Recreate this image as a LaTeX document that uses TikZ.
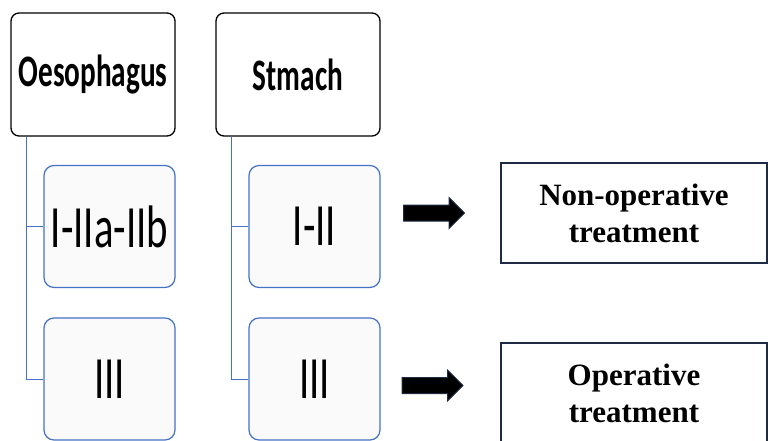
\documentclass[tikz,border=0pt]{standalone}
\usepackage{fontspec}
\newfontfamily\calibrifont{Carlito}
\newfontfamily\timesfont{Liberation Serif}
\usetikzlibrary{shapes.arrows}
\definecolor{stageblue}{RGB}{68,114,196}
\definecolor{navyline}{RGB}{31,42,68}
\newcommand{\narrowtext}[1]{\scalebox{0.68}[1]{#1}}
\newcommand{\organtext}[1]{\scalebox{0.65}[1]{#1}}
\tikzset{
	organ/.style={draw=black, line width=1.3pt, rounded corners=8pt, fill=white,
		minimum width=164pt, minimum height=123pt, inner sep=0pt,
		font=\calibrifont\bfseries\fontsize{45}{50}\selectfont},
	stage/.style={draw=stageblue, line width=1.2pt, rounded corners=10pt, fill=black!2,
		minimum width=131pt, minimum height=122pt, inner sep=0pt,
		font=\calibrifont\fontsize{60}{66}\selectfont},
	link/.style={stageblue, line width=1pt},
	fatarrow/.style={single arrow, draw=navyline, fill=black, line width=1pt,
		inner xsep=0pt, inner ysep=7.5pt,
		minimum height=61pt, minimum width=30pt, single arrow head extend=7.5pt},
	treat/.style={draw=navyline, line width=1.8pt, fill=white, align=center,
		minimum width=266pt, minimum height=100pt,
		font=\timesfont\bfseries\fontsize{31}{37}\selectfont}
}
\begin{document}
\begin{tikzpicture}[x=1pt,y=-1pt]
		\useasboundingbox (0,0) rectangle (768,441);
		% organs
		\node[organ] (oeso) at (93,74.5) {\organtext{Oesophagus}};
		\node[organ] (stom) at (298,74.5) {\organtext{Stmach}};
		% stages
		\node[stage] (oesoA) at (109.5,226.5) {\narrowtext{I-IIa-IIb}};
		\node[stage] (oesoB) at (109.5,379) {\narrowtext{III}};
		\node[stage] (stomA) at (314.5,226.5) {\narrowtext{I-II}};
		\node[stage] (stomB) at (314.5,379) {\narrowtext{III}};
		\draw [link] ([xshift=16pt]oeso.south west) |- (oesoA.west);
		\draw [link] ([xshift=16pt]oeso.south west) |- (oesoB.west);
		\draw [link] ([xshift=16pt]stom.south west) |- (stomA.west);
		\draw [link] ([xshift=16pt]stom.south west) |- (stomB.west);
		% treatment
		\node[fatarrow] (arrA) at (430,213) {};
		\node[fatarrow] (arrB) at (428.5,385.5) {};
		\node[treat] (nonop) at (634,213) {Non-operative\\treatment};
		\node[treat] (op) at (634,393) {Operative\\treatment};
	\end{tikzpicture}
\end{document}
